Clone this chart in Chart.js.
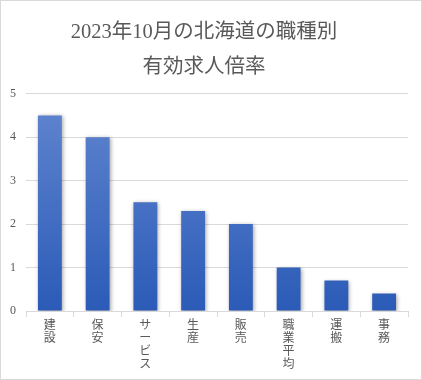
<!DOCTYPE html>
<html><head><meta charset="utf-8">
<script src="https://cdn.jsdelivr.net/npm/chart.js@4/dist/chart.umd.min.js"></script>
<style>html,body{margin:0;padding:0;background:#fff}#wrap{width:422px;height:380px;position:relative}</style>
</head><body><div id="wrap"><canvas id="c" width="422" height="380"></canvas></div>
<script>
const titleLines = ['2023年10月の北海道の職種別', '有効求人倍率'];
const categories = ['建設', '保安', 'サービス', '生産', '販売', '職業平均', '運搬', '事務'];
const values = [4.5, 4.0, 2.5, 2.3, 2.0, 1.0, 0.7, 0.4];
const yTicks = [0, 1, 2, 3, 4, 5];

const serif = "'Liberation Serif', 'Noto Sans CJK JP', serif";
const gray = '#595959';
const gridGray = '#d9d9d9';

const borderPlugin = {
  id: 'outerBorder',
  afterDraw(chart) {
    const ctx = chart.ctx;
    ctx.save();
    ctx.strokeStyle = '#d9d9d9';
    ctx.lineWidth = 1;
    ctx.strokeRect(0.5, 0.5, chart.width - 1, chart.height - 1);
    ctx.restore();
  }
};
const shadowPlugin = {
  id: 'barShadow',
  beforeDatasetsDraw(chart) {
    const ctx = chart.ctx;
    ctx.save();
    ctx.shadowColor = 'rgba(0,0,0,0.35)';
    ctx.shadowBlur = 4;
    ctx.shadowOffsetX = 1;
    ctx.shadowOffsetY = 1;
  },
  afterDatasetsDraw(chart) { chart.ctx.restore(); }
};

new Chart(document.getElementById('c'), {
  type: 'bar',
  data: {
    labels: categories.map(s => Array.from(s)),
    datasets: [{
      data: values,
      backgroundColor(ctx) {
        const ca = ctx.chart.chartArea;
        if (!ca) return '#3f6cc4';
        const g = ctx.chart.ctx.createLinearGradient(0, ca.top, 0, ca.bottom);
        g.addColorStop(0, '#6286d0');
        g.addColorStop(1, '#2b5bb7');
        return g;
      },
      borderWidth: 0,
      barPercentage: 1,
      categoryPercentage: 0.5
    }]
  },
  options: {
    responsive: false,
    animation: false,
    devicePixelRatio: 1,
    layout: { padding: { left: 0, right: 14, top: 0, bottom: 0 } },
    plugins: {
      legend: { display: false },
      tooltip: { enabled: false },
      title: {
        display: true,
        text: titleLines,
        color: gray,
        font: { family: serif, size: 20.5, weight: 'normal', lineHeight: 1.7 },
        padding: { top: 15.5, bottom: 8.5 }
      }
    },
    scales: {
      x: {
        grid: { display: true, drawOnChartArea: false, drawTicks: true, tickLength: 6, color: gridGray, offset: true },
        border: { display: true, color: gridGray },
        ticks: {
          color: gray,
          maxRotation: 0, minRotation: 0,
          autoSkip: false,
          padding: 2,
          font: { family: serif, size: 12, lineHeight: 1.1 }
        },
        afterFit(s) { s.height = 69; }
      },
      y: {
        min: 0, max: 5,
        afterBuildTicks(s) { s.ticks = yTicks.map(v => ({ value: v })); },
        grid: { color: gridGray, drawTicks: false },
        border: { display: false },
        ticks: { color: gray, padding: 10, font: { family: serif, size: 12 } },
        afterFit(s) { s.width = 26; }
      }
    }
  },
  plugins: [borderPlugin, shadowPlugin]
});
</script>
</body></html>
